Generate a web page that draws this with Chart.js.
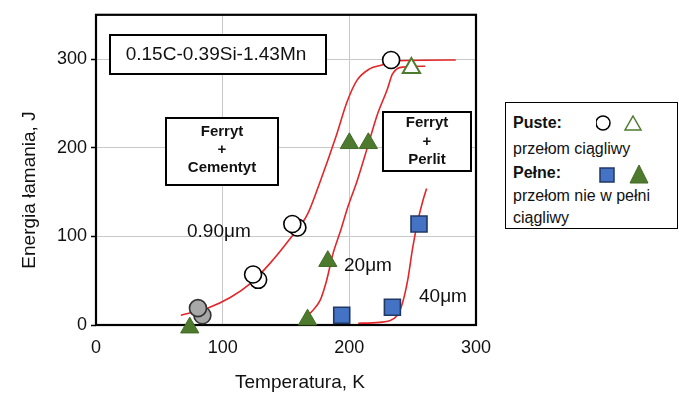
<!DOCTYPE html>
<html>
<head>
<meta charset="utf-8">
<script src="https://cdn.jsdelivr.net/npm/chart.js@4.4.1/dist/chart.umd.min.js"></script>
<style>
  html, body { margin: 0; padding: 0; background: #fff; }
  #wrap { position: relative; width: 679px; height: 394px; }
  #legend { position: absolute; left: 505px; top: 102px; width: 171px; height: 125px;
            border: 1.5px solid #000; background: #fff; font-family: Arial, "Liberation Sans", sans-serif;
            font-size: 16px; color: #111; }
  #legend .t { position: absolute; left: 7px; line-height: 20px; white-space: nowrap; }
  #legend svg { position: absolute; }
</style>
</head>
<body>
<div id="wrap">
  <canvas id="c" width="679" height="394"></canvas>
  <div id="legend">
    <span class="t" style="top:10px;font-weight:bold">Puste:</span>
    <svg style="left:90px;top:12px" width="56" height="20">
      <circle cx="7" cy="8" r="7" fill="#fff" stroke="#000" stroke-width="1.5"/>
      <polygon points="37,1 45,15 29,15" fill="#fff" stroke="#4e7a2e" stroke-width="1.5"/>
    </svg>
    <span class="t" style="top:36px">przełom ciągliwy</span>
    <span class="t" style="top:60px;font-weight:bold">Pełne:</span>
    <svg style="left:90px;top:60px" width="60" height="24">
      <rect x="4" y="5" width="14" height="14" fill="#4472c4" stroke="#1f3864" stroke-width="1.5"/>
      <polygon points="43,2 52,20 34,20" fill="#4e7a2e" stroke="#3f6a24" stroke-width="1"/>
    </svg>
    <span class="t" style="top:83px">przełom nie w pełni</span>
    <span class="t" style="top:105px">ciągliwy</span>
  </div>
</div>
<script>
// ---- data ----
const xTickValues = [0, 100, 200, 300];
const yTickValues = [0, 100, 200, 300];

// 0.90 µm grain – open circles (ductile) and grey circles
const openCircleX = [128, 124, 159, 155, 233];
const openCircleY = [51, 57, 110, 114, 299];
const greyCircleX = [84, 80.5];
const greyCircleY = [11, 19];

// 20 µm – filled triangles and open triangle
const filledTriangleX = [74, 167, 183, 200, 215];
const filledTriangleY = [-3, 6, 72, 205, 205];
const openTriangleX = [249];
const openTriangleY = [290];

// 40 µm – filled squares
const squareX = [194, 234, 255];
const squareY = [11, 20, 114];

// fitted transition curves
const curve090X = [67, 88, 106, 122, 137, 153, 167, 177, 190, 198, 206, 216, 227, 233, 284];
const curve090Y = [11, 19, 31, 47, 69, 97, 125, 162, 215, 251, 276, 289, 294, 298, 299];
const curve20X = [169, 177, 182, 187, 193, 199, 206, 214, 222, 230, 234, 242, 260];
const curve20Y = [13, 28, 50, 80, 106, 134, 162, 199, 237, 266, 283, 291, 292];
const curve40X = [207, 224, 238, 242, 246, 250, 254, 258, 261];
const curve40Y = [2, 3, 11, 25, 50, 87, 117, 140, 154];

const zip = (xs, ys) => xs.map((x, i) => ({ x: x, y: ys[i] }));

const RED = '#e3262a';
const GREEN = '#4e7a2e';
const FONT = 'Arial, "Liberation Sans", sans-serif';

function curve(xs, ys) {
  return { data: zip(xs, ys), showLine: true, borderColor: RED, borderWidth: 1.6,
           pointRadius: 0, pointHoverRadius: 0, cubicInterpolationMode: 'monotone', fill: false, order: 10 };
}

const decor = {
  id: 'decor',
  beforeDatasetsDraw(chart) {
    const ctx = chart.ctx, a = chart.chartArea;
    ctx.save();
    // frame
    ctx.strokeStyle = '#000'; ctx.lineWidth = 2.2;
    ctx.strokeRect(a.left, a.top, a.right - a.left, a.bottom - a.top);
    // boxes
    const box = (x1, y1, x2, y2) => {
      ctx.fillStyle = '#fff'; ctx.fillRect(x1, y1, x2 - x1, y2 - y1);
      ctx.strokeStyle = '#000'; ctx.lineWidth = 2; ctx.strokeRect(x1, y1, x2 - x1, y2 - y1);
    };
    box(110, 35, 326, 74);
    ctx.fillStyle = '#111'; ctx.textAlign = 'center'; ctx.textBaseline = 'middle';
    ctx.font = '19px ' + FONT;
    ctx.fillText('0.15C-0.39Si-1.43Mn', 216, 55);
    box(166, 118, 278, 185);
    box(383, 112, 471, 171);
    ctx.fillStyle = '#111';
    ctx.font = 'bold 15px ' + FONT;
    ctx.fillText('Ferryt', 222, 132); ctx.fillText('+', 222, 150); ctx.fillText('Cementyt', 222, 168);
    ctx.fillText('Ferryt', 427, 123); ctx.fillText('+', 427, 142); ctx.fillText('Perlit', 427, 160);
    ctx.font = '19px ' + FONT; ctx.textAlign = 'left';
    ctx.fillText('0.90\u03bcm', 187, 232);
    ctx.fillText('20\u03bcm', 344, 266);
    ctx.fillText('40\u03bcm', 419, 297);
    ctx.restore();
  },
  afterDraw(chart) {
    const ctx = chart.ctx;
    ctx.save();
    ctx.fillStyle = '#111'; ctx.font = '19px ' + FONT;
    ctx.textAlign = 'center'; ctx.textBaseline = 'middle';
    ctx.fillText('Temperatura, K', 300, 383);
    ctx.translate(30, 190); ctx.rotate(-Math.PI / 2);
    ctx.fillText('Energia łamania, J', 0, 0);
    ctx.restore();
  }
};

const gridColor = (vals) => (c) => (c.tick && vals.includes(c.tick.value) && c.tick.value !== 0) ? '#c8c8c8' : 'rgba(0,0,0,0)';

new Chart(document.getElementById('c'), {
  type: 'scatter',
  data: {
    datasets: [
      { data: zip(openCircleX, openCircleY), pointStyle: 'circle', pointRadius: 8.5, backgroundColor: '#fff',
        borderColor: '#000', borderWidth: 1.6, clip: false, order: 1 },
      { data: zip(greyCircleX, greyCircleY), pointStyle: 'circle', pointRadius: 8.5, backgroundColor: '#a8a8a8',
        borderColor: '#333', borderWidth: 1.6, clip: false, order: 1 },
      { data: zip(filledTriangleX, filledTriangleY), pointStyle: 'triangle', pointRadius: 10.5, backgroundColor: GREEN,
        borderColor: '#3f6a24', borderWidth: 1, clip: false, order: 1 },
      { data: zip(openTriangleX, openTriangleY), pointStyle: 'triangle', pointRadius: 10, backgroundColor: '#fff',
        borderColor: GREEN, borderWidth: 2, clip: false, order: 1 },
      { data: zip(squareX, squareY), pointStyle: 'rect', pointRadius: 11.3, backgroundColor: '#4472c4',
        borderColor: '#1f3864', borderWidth: 1.6, clip: false, order: 1 },
      curve(curve090X, curve090Y),
      curve(curve20X, curve20Y),
      curve(curve40X, curve40Y)
    ]
  },
  options: {
    responsive: false,
    animation: false,
    events: [],
    layout: { padding: { left: 0, top: 12, right: 203, bottom: 0 } },
    plugins: { legend: { display: false }, tooltip: { enabled: false } },
    scales: {
      x: {
        type: 'linear', min: 0, max: 300,
        afterFit: (s) => { s.height = 69; },
        afterBuildTicks: (s) => { s.ticks = xTickValues.map(v => ({ value: v })); },
        border: { display: false },
        grid: { color: gridColor(xTickValues), drawTicks: false, lineWidth: 1 },
        ticks: { padding: 12, color: '#111', font: { family: FONT, size: 18 }, maxRotation: 0 }
      },
      y: {
        type: 'linear', min: 0, max: 350,
        afterFit: (s) => { s.width = 96; },
        afterBuildTicks: (s) => { s.ticks = yTickValues.map(v => ({ value: v })); },
        border: { display: false },
        grid: { color: gridColor(yTickValues), drawTicks: true, tickLength: 5, tickColor: '#000', tickWidth: 1.5, lineWidth: 1 },
        ticks: { padding: 4, color: '#111', font: { family: FONT, size: 18 } }
      }
    }
  },
  plugins: [decor]
});
</script>
</body>
</html>
